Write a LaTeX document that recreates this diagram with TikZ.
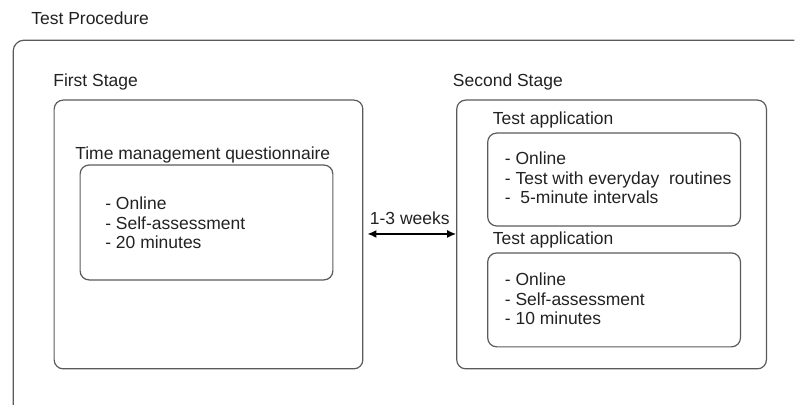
\documentclass[tikz,border=0pt]{standalone}
\usepackage{fontspec}
\setmainfont{Liberation Sans}
\usepackage{tikz}
\usetikzlibrary{arrows.meta}

\definecolor{FrameGray}{HTML}{5A5A5A}
\definecolor{TextGray}{HTML}{222222}

\tikzset{
    panel/.style = {draw = FrameGray, line width = 1.2pt, rounded corners = 9pt, inner sep = 0pt},
    heading/.style = {TextGray, anchor = west, inner sep = 0pt, font = \fontsize{17.5}{19.5}\selectfont},
    items/.style = {TextGray, anchor = west, align = left, inner sep = 0pt, font = \fontsize{17.5}{19.5}\selectfont}
}

\begin{document}
\begin{tikzpicture}[x = 1pt, y = -1pt]
    \draw [white, opacity = 0] (0, 0) rectangle (795, 405);
    \draw [FrameGray, line width = 1.2pt, rounded corners = 11pt] (13, 405) |- (795, 40);
    \node [heading] (proc) at (31, 18) {Test Procedure};
    % first stage
    \node [heading] (first) at (53, 82) {First Stage};
    \node [panel, minimum width = 309pt, minimum height = 269pt] (firstbox) at (208.5, 234.5) {};
    \node [heading] (tmq) at (75, 155) {Time management questionnaire};
    \node [panel, minimum width = 253pt, minimum height = 115pt] (tmqbox) at (206.5, 222.5) {};
    \node [items] (tmqtext) at (105, 223) {- Online\\- Self-assessment\\- 20 minutes};
    % second stage
    \node [heading] (second) at (453, 82) {Second Stage};
    \node [panel, minimum width = 310pt, minimum height = 269pt] (secondbox) at (612, 234.5) {};
    \node [heading] (appA) at (493, 120) {Test application};
    \node [panel, minimum width = 253pt, minimum height = 93pt] (appAbox) at (614.5, 179.5) {};
    \node [items] (appAtext) at (505, 178) {- Online\\- Test with everyday~ routines\\-~ 5-minute intervals};
    \node [heading] (appB) at (493, 240) {Test application};
    \node [panel, minimum width = 253pt, minimum height = 94pt] (appBbox) at (614.5, 300) {};
    \node [items] (appBtext) at (505, 299) {- Online\\- Self-assessment\\- 10 minutes};
    % gap between the stages
    \node [heading, anchor = center] (weeks) at (410, 218) {1-3 weeks};
    \coordinate (gap) at (410, 234);
    \draw [black, line width = 1.5pt, {Latex[length = 9pt, width = 8pt]}-{Latex[length = 9pt, width = 8pt]}]
        ([xshift = 4pt] firstbox.east |- gap) -- (secondbox.west |- gap);
\end{tikzpicture}
\end{document}
